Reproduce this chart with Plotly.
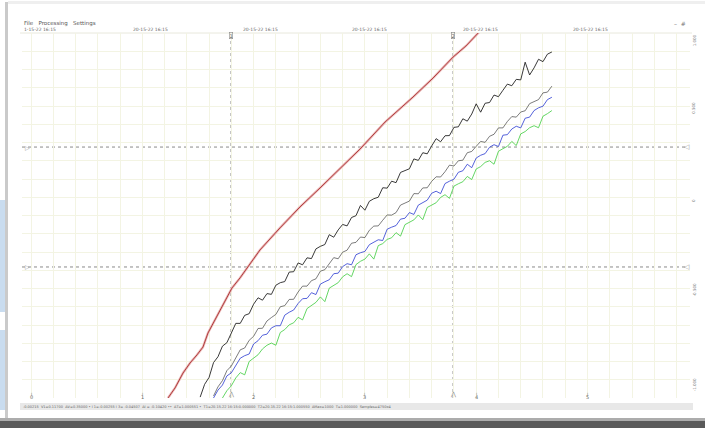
import plotly.graph_objects as go

# ---- acquisition data (time in s, signal in V) ----
red_t = [1.231, 1.294, 1.366, 1.429, 1.491, 1.545, 1.590, 1.653, 1.716, 1.770, 1.806, 1.878,
         1.941, 2.013, 2.057, 2.237, 2.417, 2.597, 2.776, 2.956, 3.181, 3.432, 3.612, 3.792,
         3.908, 4.016, 4.08]
red_v = [0.000, 0.055, 0.137, 0.192, 0.236, 0.279, 0.356, 0.427, 0.499, 0.559, 0.603, 0.658,
         0.712, 0.767, 0.811, 0.932, 1.047, 1.151, 1.260, 1.364, 1.512, 1.649, 1.753, 1.868,
         1.929, 1.995, 2.04]

black_t = [1.52, 1.56, 1.60, 1.64, 1.68, 1.72, 1.76, 1.80, 1.84, 1.88, 1.92, 1.96, 2.00, 2.04,
           2.08, 2.12, 2.16, 2.20, 2.24, 2.28, 2.32, 2.36, 2.40, 2.44, 2.48, 2.52, 2.56, 2.60,
           2.64, 2.68, 2.72, 2.76, 2.80, 2.84, 2.88, 2.92, 2.96, 3.00, 3.04, 3.08, 3.12, 3.16,
           3.20, 3.24, 3.28, 3.32, 3.36, 3.40, 3.44, 3.48, 3.52, 3.56, 3.60, 3.64, 3.68, 3.72,
           3.76, 3.80, 3.84, 3.88, 3.92, 3.96, 4.00, 4.04, 4.08, 4.12, 4.16, 4.20, 4.24, 4.28,
           4.32, 4.36, 4.40, 4.44, 4.48, 4.52, 4.56, 4.60, 4.64, 4.68]
black_v = [0.005, 0.075, 0.113, 0.194, 0.226, 0.284, 0.303, 0.360, 0.409, 0.409, 0.453, 0.462,
           0.514, 0.549, 0.536, 0.572, 0.568, 0.618, 0.632, 0.638, 0.690, 0.692, 0.740, 0.730,
           0.768, 0.764, 0.817, 0.831, 0.841, 0.895, 0.881, 0.921, 0.951, 0.943, 0.989, 0.999,
           1.055, 1.029, 1.078, 1.092, 1.100, 1.152, 1.150, 1.188, 1.180, 1.236, 1.248, 1.256,
           1.310, 1.302, 1.344, 1.338, 1.381, 1.421, 1.404, 1.437, 1.438, 1.483, 1.486, 1.530,
           1.517, 1.556, 1.612, 1.566, 1.615, 1.619, 1.660, 1.651, 1.686, 1.720, 1.711, 1.746,
           1.743, 1.840, 1.770, 1.809, 1.856, 1.843, 1.884, 1.896]

mid_t = [1.64, 1.68, 1.72, 1.76, 1.80, 1.84, 1.88, 1.92, 1.96, 2.00, 2.04, 2.08, 2.12, 2.16,
         2.20, 2.24, 2.28, 2.32, 2.36, 2.40, 2.44, 2.48, 2.52, 2.56, 2.60, 2.64, 2.68, 2.72,
         2.76, 2.80, 2.84, 2.88, 2.92, 2.96, 3.00, 3.04, 3.08, 3.12, 3.16, 3.20, 3.24, 3.28,
         3.32, 3.36, 3.40, 3.44, 3.48, 3.52, 3.56, 3.60, 3.64, 3.68, 3.72, 3.76, 3.80, 3.84,
         3.88, 3.92, 3.96, 4.00, 4.04, 4.08, 4.12, 4.16, 4.20, 4.24, 4.28, 4.32, 4.36, 4.40,
         4.44, 4.48, 4.52, 4.56, 4.60, 4.64, 4.68]
gray_v = [0.011, 0.061, 0.095, 0.150, 0.175, 0.219, 0.264, 0.274, 0.316, 0.338,
          0.381, 0.382, 0.422, 0.441, 0.458, 0.500, 0.506, 0.540, 0.541, 0.581,
          0.613, 0.613, 0.643, 0.653, 0.695, 0.703, 0.737, 0.769, 0.763, 0.799,
          0.810, 0.848, 0.853, 0.882, 0.879, 0.919, 0.942, 0.943, 0.974, 1.003,
          1.002, 1.016, 1.057, 1.068, 1.079, 1.120, 1.119, 1.151, 1.152, 1.187,
          1.212, 1.211, 1.240, 1.276, 1.271, 1.300, 1.303, 1.344, 1.351, 1.379,
          1.406, 1.401, 1.434, 1.445, 1.480, 1.480, 1.515, 1.542, 1.539, 1.567,
          1.574, 1.613, 1.626, 1.635, 1.672, 1.676, 1.709]
blue_v = [0.000, 0.043, 0.071, 0.121, 0.138, 0.182, 0.218, 0.232, 0.241, 0.296,
          0.314, 0.344, 0.350, 0.384, 0.396, 0.396, 0.454, 0.470, 0.482, 0.518,
          0.544, 0.546, 0.577, 0.567, 0.624, 0.637, 0.648, 0.681, 0.684, 0.720,
          0.736, 0.730, 0.785, 0.796, 0.803, 0.840, 0.855, 0.867, 0.863, 0.925,
          0.936, 0.945, 0.980, 0.985, 1.016, 1.006, 1.057, 1.071, 1.084, 1.122,
          1.133, 1.120, 1.175, 1.188, 1.199, 1.237, 1.245, 1.281, 1.262, 1.315,
          1.330, 1.339, 1.374, 1.388, 1.378, 1.440, 1.443, 1.474, 1.489, 1.480,
          1.533, 1.539, 1.575, 1.590, 1.599, 1.635, 1.648]

green_t = [1.72, 1.76, 1.80, 1.84, 1.88, 1.92, 1.96, 2.00, 2.04, 2.08, 2.12, 2.16, 2.20, 2.24,
           2.28, 2.32, 2.36, 2.40, 2.44, 2.48, 2.52, 2.56, 2.60, 2.64, 2.68, 2.72, 2.76, 2.80,
           2.84, 2.88, 2.92, 2.96, 3.00, 3.04, 3.08, 3.12, 3.16, 3.20, 3.24, 3.28, 3.32, 3.36,
           3.40, 3.44, 3.48, 3.52, 3.56, 3.60, 3.64, 3.68, 3.72, 3.76, 3.80, 3.84, 3.88, 3.92,
           3.96, 4.00, 4.04, 4.08, 4.12, 4.16, 4.20, 4.24, 4.28, 4.32, 4.36, 4.40, 4.44, 4.48,
           4.52, 4.56, 4.60, 4.64, 4.68]
green_v = [0.000, 0.040, 0.067, 0.110, 0.139, 0.127, 0.200, 0.219, 0.237, 0.269,
           0.289, 0.301, 0.289, 0.359, 0.375, 0.401, 0.412, 0.442, 0.428, 0.490,
           0.508, 0.524, 0.554, 0.528, 0.602, 0.616, 0.632, 0.664, 0.681, 0.665,
           0.731, 0.749, 0.761, 0.790, 0.761, 0.835, 0.846, 0.869, 0.878, 0.906,
           0.887, 0.950, 0.961, 0.976, 1.003, 0.977, 1.044, 1.059, 1.070, 1.099,
           1.114, 1.094, 1.161, 1.174, 1.185, 1.214, 1.197, 1.255, 1.268, 1.291,
           1.300, 1.281, 1.352, 1.366, 1.379, 1.406, 1.383, 1.447, 1.460, 1.481,
           1.492, 1.481, 1.544, 1.558, 1.575]

# cursors
cursor_t = [1.797, 3.792]
cursor_v = [1.375, 0.718]

x_tick_vals = [0, 1, 2, 3, 4, 5]
x_tick_text = ["0", "1", "2", "3", "4", "5"]
top_stamp_vals = [-0.08, 0.9, 1.89, 2.87, 3.86, 4.85]
top_stamp_text = ["1-15-22 16:15", "20-15-22 16:15", "20-15-22 16:15", "20-15-22 16:15",
                  "20-15-22 16:15", "20-15-22 16:15"]
right_tick_vals = [1.96, 1.59, 1.08, 0.59, 0.07]
right_tick_text = ["1.000", "0.500", "0", "-0.500", "-1.000"]

status_text = ("-0.00215  V1=0.11700  ΔV=0.35000 • I 1=-0.00255 I 3= -0.04507  ΔI = -0.10420 ••  "
               "ΔT=1.000551 •  T1=20.15.22 16:15:0.000000  T2=20.15.22 16:15:1.000550  "
               "ΔMax=1000  T=1.000000  Samples=4750x4")

# ---- page geometry ----
W, H = 705, 428
ML, MR, MT, MB = 22, 15, 33, 30
PW, PH = W - ML - MR, H - MT - MB


def fx(px):
    return (px - ML) / PW


def fy(py):
    return (H - MB - py) / PH


X_RANGE = [-0.0809, 5.921]
Y_RANGE = [0.0, 2.0]
GRID = "#f3f4e3"
FONT = "DejaVu Sans"

fig = go.Figure()

fig.add_trace(go.Scatter(x=red_t, y=red_v, mode="lines",
                         line=dict(color="#ebb9b9", width=2.4), hoverinfo="skip"))
fig.add_trace(go.Scatter(x=red_t, y=red_v, mode="lines",
                         line=dict(color="#a83030", width=0.9), hoverinfo="skip"))
fig.add_trace(go.Scatter(x=black_t, y=black_v, mode="lines",
                         line=dict(color="#222222", width=0.9), hoverinfo="skip"))
fig.add_trace(go.Scatter(x=mid_t, y=gray_v, mode="lines",
                         line=dict(color="#444444", width=0.7), hoverinfo="skip"))
fig.add_trace(go.Scatter(x=mid_t, y=blue_v, mode="lines",
                         line=dict(color="#2a3ad0", width=0.8), hoverinfo="skip"))
fig.add_trace(go.Scatter(x=green_t, y=green_v, mode="lines",
                         line=dict(color="#3ccc3c", width=0.8), hoverinfo="skip"))

shapes = []
# cursor lines
for t in cursor_t:
    shapes.append(dict(type="line", xref="x", yref="paper", x0=t, x1=t, y0=0, y1=fy(37),
                       line=dict(color="#8a8a8a", width=1, dash="dot"), layer="below"))
for v in cursor_v:
    shapes.append(dict(type="line", xref="paper", yref="y", x0=0, x1=fx(688), y0=v, y1=v,
                       line=dict(color="#8a8a8a", width=1, dash="dot"), layer="below"))

# window frame
shapes += [
    dict(type="rect", xref="paper", yref="paper", x0=fx(0), x1=fx(6), y0=fy(200), y1=fy(312),
         fillcolor="#c9dcef", line=dict(width=0), layer="below"),
    dict(type="rect", xref="paper", yref="paper", x0=fx(0), x1=fx(6), y0=fy(330), y1=fy(410),
         fillcolor="#c9dcef", line=dict(width=0), layer="below"),
    dict(type="rect", xref="paper", yref="paper", x0=fx(5), x1=fx(8), y0=fy(421), y1=fy(2),
         fillcolor="#cacaca", line=dict(width=0), layer="below"),
    dict(type="rect", xref="paper", yref="paper", x0=fx(8), x1=fx(705), y0=fy(4), y1=fy(1),
         fillcolor="#efefef", line=dict(width=0), layer="below"),
    dict(type="rect", xref="paper", yref="paper", x0=fx(0), x1=fx(705), y0=fy(428), y1=fy(421),
         fillcolor="#5a5a5a", line=dict(width=0), layer="below"),
    dict(type="rect", xref="paper", yref="paper", x0=fx(0), x1=fx(705), y0=fy(421), y1=fy(418),
         fillcolor="#acacac", line=dict(width=0), layer="below"),
    # status bar
    dict(type="rect", xref="paper", yref="paper", x0=fx(20), x1=fx(693), y0=fy(410), y1=fy(403),
         fillcolor="#e8e8e8", line=dict(width=0), layer="below"),
    # header rule under time stamps
    dict(type="line", xref="paper", yref="paper", x0=fx(20), x1=fx(692), y0=fy(33), y1=fy(33),
         line=dict(color="#e8e8dc", width=1), layer="below"),
]

ann = []
small = dict(family=FONT, size=5, color="#666666")
ann.append(dict(x=fx(22), y=fy(24), xref="paper", yref="paper", text="File   Processing   Settings",
                showarrow=False, xanchor="left", yanchor="middle",
                font=dict(family=FONT, size=5.5, color="#555")))
ann.append(dict(x=fx(688), y=fy(24), xref="paper", yref="paper", text="–  #",
                showarrow=False, xanchor="right", yanchor="middle",
                font=dict(family=FONT, size=6, color="#777")))
for v, s in zip(top_stamp_vals, top_stamp_text):
    ann.append(dict(x=v, y=fy(30), xref="x", yref="paper", text=s, showarrow=False,
                    xanchor="left", yanchor="middle", font=dict(family=FONT, size=4.5, color="#666")))
for v, s in zip(x_tick_vals, x_tick_text):
    ann.append(dict(x=v, y=fy(397), xref="x", yref="paper", text=s, showarrow=False,
                    xanchor="center", yanchor="middle", font=small))
    ann.append(dict(x=v, y=fy(393), xref="x", yref="paper", text="ı", showarrow=False,
                    xanchor="center", yanchor="middle", font=dict(family=FONT, size=4, color="#777")))
for v, s in zip(right_tick_vals, right_tick_text):
    ann.append(dict(x=fx(694), y=v, xref="paper", yref="y", text=s, showarrow=False, textangle=-90,
                    xanchor="center", yanchor="middle", font=dict(family=FONT, size=4, color="#777")))
for i, t in enumerate(cursor_t):
    ann.append(dict(x=t, y=fy(36), xref="x", yref="paper", text=str(i + 1), showarrow=False,
                    xanchor="center", yanchor="middle", bordercolor="#888", borderwidth=0.6,
                    borderpad=0, font=dict(family=FONT, size=5, color="#666")))
    ann.append(dict(x=t, y=fy(394), xref="x", yref="paper", text="⋀", showarrow=False,
                    xanchor="center", yanchor="middle", font=dict(family=FONT, size=6, color="#888")))
for v in cursor_v:
    ann.append(dict(x=fx(23), y=v, xref="paper", yref="y", text="▷", showarrow=False,
                    xanchor="left", yanchor="middle", font=dict(family=FONT, size=6, color="#999")))
    ann.append(dict(x=fx(692), y=v, xref="paper", yref="y", text="◁", showarrow=False,
                    xanchor="right", yanchor="middle", font=dict(family=FONT, size=7, color="#999")))
ann.append(dict(x=fx(21), y=fy(407), xref="paper", yref="paper", text=status_text, showarrow=False,
                xanchor="left", yanchor="middle", font=dict(family=FONT, size=3.5, color="#666")))

fig.update_layout(
    width=W, height=H,
    margin=dict(l=ML, r=MR, t=MT, b=MB),
    paper_bgcolor="white", plot_bgcolor="white",
    showlegend=False,
    xaxis=dict(range=X_RANGE, dtick=0.2, tick0=0, showgrid=True, gridcolor=GRID, gridwidth=1,
               zeroline=False, showticklabels=False, ticks="", showline=False, fixedrange=True),
    yaxis=dict(range=Y_RANGE, dtick=0.1, tick0=0, showgrid=True, gridcolor=GRID, gridwidth=1,
               zeroline=False, showticklabels=False, ticks="", showline=False, fixedrange=True),
    shapes=shapes, annotations=ann,
)

fig.write_html("out.html", config={"displayModeBar": False})
